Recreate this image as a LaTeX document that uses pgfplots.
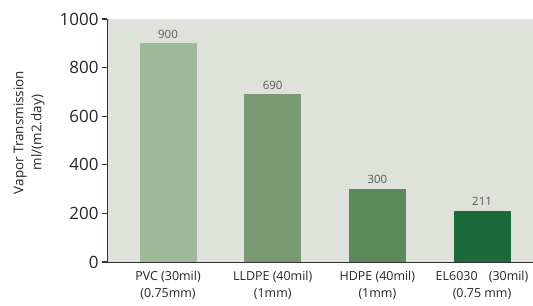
\documentclass[border=0pt]{standalone}
\usepackage{pgfplots}
\pgfplotsset{compat=1.18}
\usepackage{fontspec}
\setmainfont{Open Sans}
\definecolor{bgc}{HTML}{DEE2DB}
\definecolor{c1}{HTML}{9DBB98}
\definecolor{c2}{HTML}{789A71}
\definecolor{c3}{HTML}{5A8A59}
\definecolor{c4}{HTML}{1C6A39}
\definecolor{axc}{HTML}{333333}
\begin{document}
\begin{tikzpicture}
\path[use as bounding box] (-107bp,-44bp) rectangle (426bp,262bp);
\begin{axis}[
  at={(0,0)}, anchor=south west,
  scale only axis, width=426bp, height=243bp,
  xmin=-0.583, xmax=3.487, ymin=0, ymax=1000,
  axis background/.style={fill=bgc},
  axis x line*=bottom, axis y line*=left,
  axis line style={axc, line width=1pt},
  ytick={0,200,400,600,800,1000},
  ytick style={axc, line width=1.2pt},
  tick align=outside, major tick length=5bp,
  xtick={0,1,2,3}, xtick style={draw=none},
  xticklabels={{PVC (30mil)\\(0.75mm)},{LLDPE (40mil)\\(1mm)},{HDPE (40mil)\\(1mm)},{EL6030\hspace{0.9em}(30mil)\\(0.75 mm)}},
  xticklabel style={align=center, font=\fontsize{12.5}{17}\selectfont, text=black!85, yshift=-1bp},
  yticklabel style={font=\fontsize{17}{20}\selectfont, text=black!85},
  /pgf/number format/assume math mode=true,
  /pgf/number format/1000 sep={},
  ybar, bar width=57bp,
  nodes near coords,
  every node near coord/.append style={font=\fontsize{11.5}{13}\selectfont, text=black!65, yshift=1.5bp},
  ylabel={Vapor Transmission\\ml/(m2.day)},
  ylabel style={align=center, font=\fontsize{13.5}{18}\selectfont, text=black!85, at={(axis description cs:0,0.5)}, anchor=center, yshift=78bp, xshift=8bp},
]
\addplot[fill=c1, draw=none, bar shift=0pt] coordinates {(0,900)};
\addplot[fill=c2, draw=none, bar shift=0pt] coordinates {(1,690)};
\addplot[fill=c3, draw=none, bar shift=0pt] coordinates {(2,300)};
\addplot[fill=c4, draw=none, bar shift=0pt] coordinates {(3,211)};
\end{axis}
\end{tikzpicture}
\end{document}
